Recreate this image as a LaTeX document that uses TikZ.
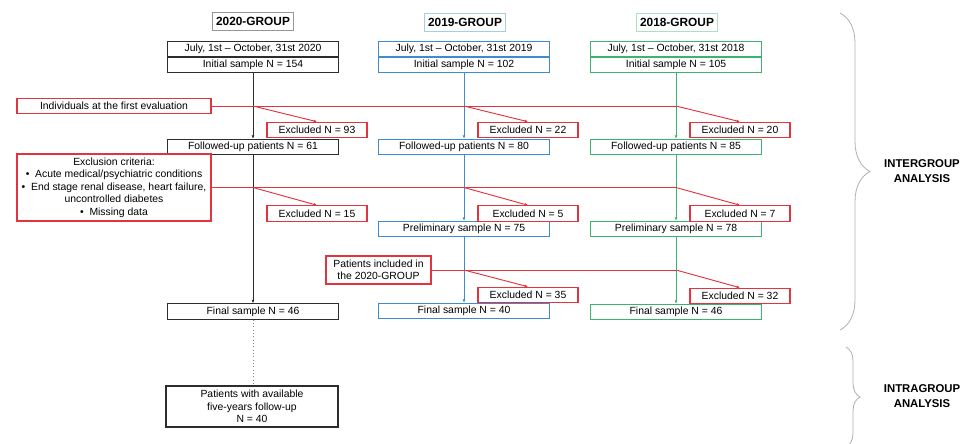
\documentclass[tikz,border=0pt]{standalone}
\usepackage{fontspec}
\setmainfont{Liberation Sans}
\usetikzlibrary{arrows.meta,positioning,calc,decorations.pathreplacing}

\definecolor{grp20}{RGB}{45,45,45}
\definecolor{grp19}{RGB}{62,140,205}
\definecolor{grp18}{RGB}{62,178,112}
\definecolor{excl}{RGB}{226,52,62}
\definecolor{tit20}{RGB}{150,150,150}
\definecolor{tit19}{RGB}{165,205,228}
\definecolor{tit18}{RGB}{175,222,195}
\definecolor{bracegray}{RGB}{175,175,175}

\begin{document}
\begin{tikzpicture}[x=0.75pt,y=-0.75pt,
  txt/.style={font=\fontsize{7.8}{9.4}\selectfont},
  box/.style={txt,draw,line width=0.8pt,minimum width=128.25pt,minimum height=11.6pt,inner sep=0pt},
  title/.style={draw,line width=0.6pt,minimum width=60.75pt,minimum height=13.5pt,inner sep=0pt,font=\fontsize{8.9}{10}\selectfont\bfseries},
  exbox/.style={txt,draw=excl,line width=0.8pt,minimum width=75pt,minimum height=11.6pt,inner sep=0pt},
  flow/.style={line width=0.7pt,-{Latex[length=2.5pt,width=2.2pt]}},
  exline/.style={excl,line width=0.7pt},
  exarrow/.style={exline,-{Latex[length=2.5pt,width=2.2pt]}},
  brace/.style={bracegray,line width=0.6pt,decorate},
  side/.style={align=center,font=\fontsize{8.5}{11.2}\selectfont\bfseries}]
  \useasboundingbox (0,0) rectangle (967,443);

  % titles
  \node[title,draw=tit20] (t20) at (253,21) {2020-GROUP};
  \node[title,draw=tit19] (t19) at (465,22) {2019-GROUP};
  \node[title,draw=tit18] (t18) at (677,22) {2018-GROUP};

  % 2020 column
  \node[box,draw=grp20] (date20) at (253,49) {July, 1st -- October, 31st 2020};
  \node[box,draw=grp20] (init20) at (253,65) {Initial sample N = 154};
  \node[box,draw=grp20] (fu20) at (253,147) {Followed-up patients N = 61};
  \node[box,draw=grp20] (fin20) at (253,311.5) {Final sample N = 46};
  \node[box,draw=grp20,minimum width=129pt,minimum height=30.75pt,align=center] (five) at (252,406.5)
    {Patients with available\\five-years follow-up\\N = 40};

  % 2019 column
  \node[box,draw=grp19] (date19) at (464,49) {July, 1st -- October, 31st 2019};
  \node[box,draw=grp19] (init19) at (464,65) {Initial sample N = 102};
  \node[box,draw=grp19] (fu19) at (464,147) {Followed-up patients N = 80};
  \node[box,draw=grp19] (pre19) at (464,229) {Preliminary sample N = 75};
  \node[box,draw=grp19] (fin19) at (464,311) {Final sample N = 40};

  % 2018 column
  \node[box,draw=grp18] (date18) at (676,49) {July, 1st -- October, 31st 2018};
  \node[box,draw=grp18] (init18) at (676,65) {Initial sample N = 105};
  \node[box,draw=grp18] (fu18) at (676,147) {Followed-up patients N = 85};
  \node[box,draw=grp18] (pre18) at (676,229) {Preliminary sample N = 78};
  \node[box,draw=grp18] (fin18) at (676,312) {Final sample N = 46};

  % exclusion reasons
  \node[exbox,minimum width=145.5pt,minimum height=11.25pt] (ind) at (114,106) {Individuals at the first evaluation};
  \node[exbox,minimum width=145.5pt,minimum height=50.25pt,align=center] (crit) at (114,187.5)
    {Exclusion criteria:\\\textbullet\ \ Acute medical/psychiatric conditions\\\textbullet\ \ End stage renal disease, heart failure,\\uncontrolled diabetes\\\textbullet\ \ Missing data};
  \node[exbox,minimum width=78.75pt,minimum height=21pt,align=center] (inc) at (378.5,270)
    {Patients included in\\the 2020-GROUP};

  % excluded boxes
  \node[exbox] (ex93) at (317,130) {Excluded N = 93};
  \node[exbox] (ex22) at (528,130) {Excluded N = 22};
  \node[exbox] (ex20) at (740,130) {Excluded N = 20};
  \node[exbox] (ex15) at (317,213.5) {Excluded N = 15};
  \node[exbox] (ex5) at (528,213.5) {Excluded N = 5};
  \node[exbox] (ex7) at (740,213.5) {Excluded N = 7};
  \node[exbox] (ex35) at (528,295) {Excluded N = 35};
  \node[exbox] (ex32) at (740,296) {Excluded N = 32};

  % flow
  \draw[flow,grp20] (init20) -- (fu20);
  \draw[flow,grp20] (fu20) -- (fin20);
  \draw[grp20!60,line width=0.5pt,dotted] (fin20.south) -- (fin20.south |- five.north);
  \draw[flow,grp19] (init19) -- (fu19);
  \draw[flow,grp19] (fu19) -- (pre19);
  \draw[flow,grp19] (pre19) -- (fin19);
  \draw[flow,grp18] (init18) -- (fu18);
  \draw[flow,grp18] (fu18) -- (pre18);
  \draw[flow,grp18] (pre18) -- (fin18);

  % exclusions
  \draw[exline] (ind.east) -- (ind.east -| init18.south);
  \draw[exarrow] (ind.east -| init20.south) -- (ex93.north);
  \draw[exarrow] (ind.east -| init19.south) -- (ex22.north);
  \draw[exarrow] (ind.east -| init18.south) -- (ex20.north);
  \draw[exline] (crit.east) -- (crit.east -| fu18.south);
  \draw[exarrow] (crit.east -| fu20.south) -- (ex15.north);
  \draw[exarrow] (crit.east -| fu19.south) -- (ex5.north);
  \draw[exarrow] (crit.east -| fu18.south) -- (ex7.north);
  \draw[exline] (inc.east) -- (inc.east -| pre18.south);
  \draw[exarrow] (inc.east -| pre19.south) -- (ex35.north);
  \draw[exarrow] (inc.east -| pre18.south) -- (ex32.north);

  % analysis braces
  \draw[brace,decoration={brace,amplitude=22.5pt}] (840,13) -- (840,330);
  \draw[brace,decoration={brace,amplitude=10.5pt}] (846,347) -- (846,447);
  \node[side] (inter) at (922,171) {INTERGROUP\\ANALYSIS};
  \node[side] (intra) at (922,396) {INTRAGROUP\\ANALYSIS};
\end{tikzpicture}
\end{document}
